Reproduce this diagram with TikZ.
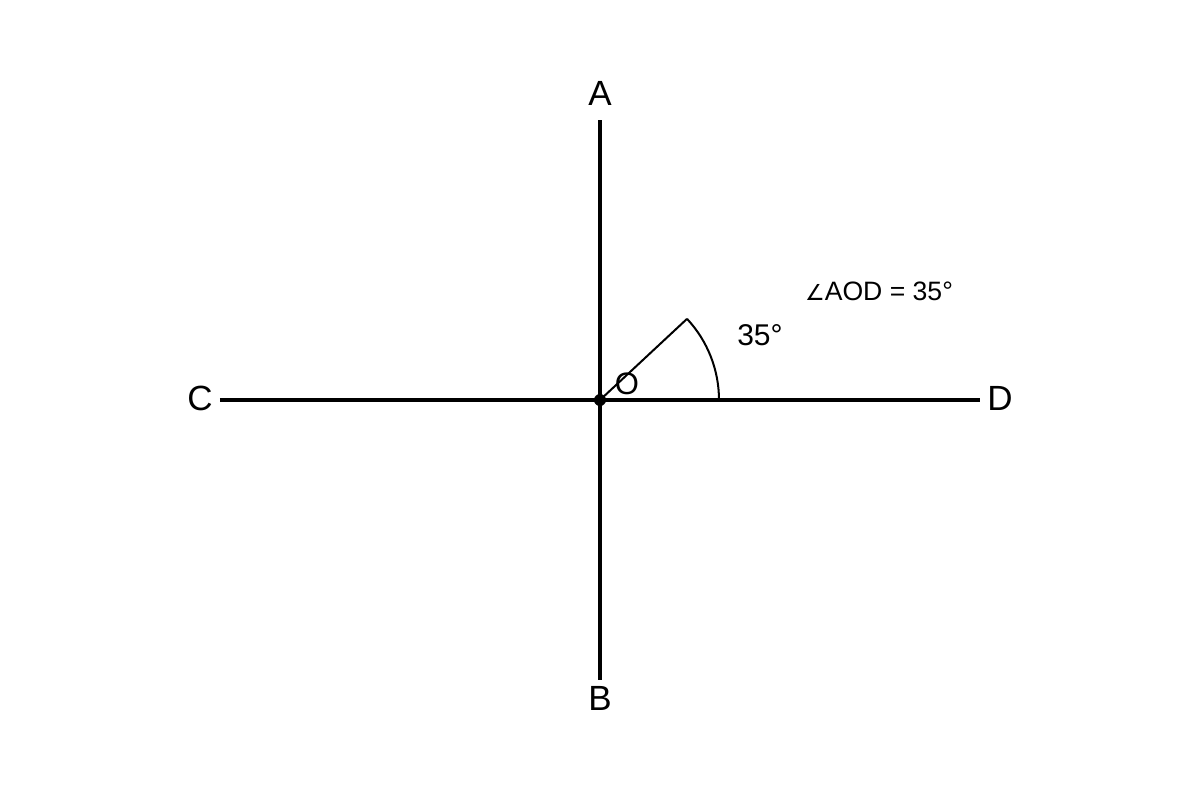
\documentclass[tikz,border=0pt]{standalone}
\usepackage{fontspec}
\setmainfont{Liberation Sans}
\newfontfamily\symfont{DejaVu Sans}
\usetikzlibrary{arrows,shapes}
\tikzstyle{point}=[circle,fill=black,minimum size=6pt,inner sep=0pt]
\tikzstyle{ray} = [draw,line width=2pt,-]
\tikzstyle{side} = [draw,line width=1pt,-]
\tikzstyle{lbl}=[inner sep=0pt,font=\fontsize{17.5}{19}\selectfont]

\begin{document}
\begin{tikzpicture}[x=0.5pt,y=0.5pt]
    \useasboundingbox (-600,-400) rectangle (600,400);
    % First we place the end points of the two lines
    \coordinate (O) at (0,0);
    \foreach \x/\y/\name in {0/280/A, 0/-280/B, -380/0/C, 380/0/D}
        \coordinate (\name) at (\x,\y);
    % Draw the lines through O
    \foreach \source/\dest in {A/B, C/D}
        \path[ray] (\source) -- (\dest) ;
    \node[point] (dot) at (O) {};
    % Letters at the ends
    \foreach \pos/\name in {{(0,307)/A}, {(0,-298)/B}, {(-400,2)/C}, {(400,2)/D}}
        \node[lbl] (\name lbl) at \pos {\name};
    \node[inner sep=0pt,font=\fontsize{15.5}{17}\selectfont] (Olbl) at (27,16) {O};
    % The marked angle
    \coordinate (E) at (43:119);
    \coordinate (F) at (119,0);
    \path[side] (O) -- (E);
    \path[side] (F) arc[start angle=0,end angle=43,radius=119];
    \node[inner sep=0pt,font=\fontsize{15}{17}\selectfont] (ang) at (160,65) {35°};
    \node[inner sep=0pt,font=\fontsize{13.3}{15}\selectfont] (eq) at (279,109) {{\symfont\fontsize{11}{13}\selectfont ∠}AOD = 35°};
\end{tikzpicture}
\end{document}
